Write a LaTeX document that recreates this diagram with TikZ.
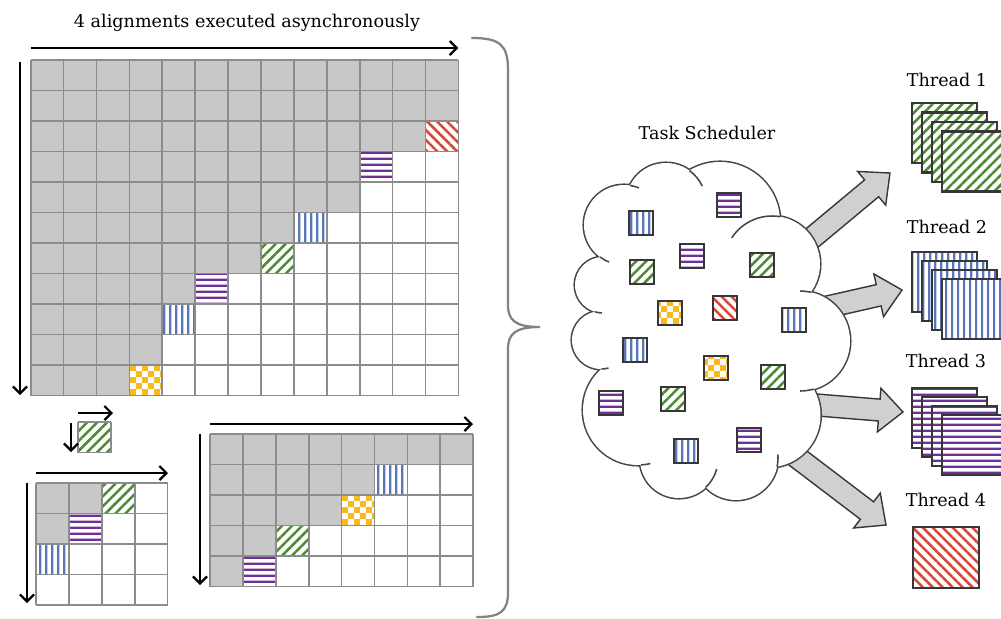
\documentclass[tikz,border=0pt]{standalone}
\usepackage{fontspec}
\setmainfont{DejaVu Serif}
\usetikzlibrary{arrows.meta, calc, patterns.meta}
\definecolor{cellfill}{RGB}{200,200,200}
\definecolor{gridgray}{RGB}{140,140,140}
\definecolor{tgreen}{RGB}{78,138,52}
\definecolor{tblue}{RGB}{88,118,185}
\definecolor{tpurple}{RGB}{108,48,152}
\definecolor{tred}{RGB}{214,72,56}
\definecolor{tyellow}{RGB}{248,186,32}
\definecolor{cloudgray}{RGB}{70,70,70}
\definecolor{tiledark}{RGB}{55,55,55}
\definecolor{bracegray}{RGB}{130,130,130}
\definecolor{arrowfill}{RGB}{208,208,208}
\pgfdeclarepatternformonly{bigcheck}{\pgfpointorigin}{\pgfqpoint{8.4pt}{8.4pt}}{\pgfqpoint{8.4pt}{8.4pt}}{%
  \pgfpathrectangle{\pgfpointorigin}{\pgfqpoint{4.2pt}{4.2pt}}%
  \pgfpathrectangle{\pgfqpoint{4.2pt}{4.2pt}}{\pgfqpoint{4.2pt}{4.2pt}}%
  \pgfusepath{fill}}
\pgfdeclarepatternformonly{vstripes}{\pgfpointorigin}{\pgfqpoint{4pt}{50pt}}{\pgfqpoint{4pt}{50pt}}{%
  \pgfpathrectangle{\pgfpointorigin}{\pgfqpoint{1.7pt}{50pt}}%
  \pgfusepath{fill}}
\pgfdeclarepatternformonly{hstripes}{\pgfpointorigin}{\pgfqpoint{50pt}{4.3pt}}{\pgfqpoint{50pt}{4.3pt}}{%
  \pgfpathrectangle{\pgfpointorigin}{\pgfqpoint{50pt}{1.9pt}}%
  \pgfusepath{fill}}
\tikzset{
  greentile/.style={preaction={fill=white}, pattern={Lines[angle=45,distance=5pt,line width=1.8pt]}, pattern color=tgreen},
  redtile/.style={preaction={fill=white}, pattern={Lines[angle=-45,distance=5pt,line width=1.8pt]}, pattern color=tred},
  bluetile/.style={preaction={fill=white}, pattern=vstripes, pattern color=tblue},
  purpletile/.style={preaction={fill=white}, pattern=hstripes, pattern color=tpurple},
  yellowtile/.style={preaction={fill=white}, pattern=bigcheck, pattern color=tyellow},
  gridline/.style={draw=gridgray, line width=1.2pt},
  axisarrow/.style={-{Straight Barb[length=5pt,width=10pt]}, line width=1.6pt, black},
  taskbox/.style={draw=tiledark, line width=1.1pt},
  threadbox/.style={draw=tiledark, line width=1.5pt},
  cloudedge/.style={draw=cloudgray, line width=1.1pt},
  blockarr/.style={fill=arrowfill, draw=tiledark, line width=1pt},
  brace/.style={draw=bracegray, line width=1.6pt, line cap=round},
  lbl/.style={font=\fontsize{12.5}{15}\selectfont, inner sep=1pt}
}
\def\cw{32.9}
\def\ch{30.5}
% grid: origin, columns, rows, grey cells per row, marked cells
\newcommand\dpgrid[5]{%
  \begin{scope}[shift={#1}]
    \foreach \g [count=\ry from 0] in {#4}
      \fill[cellfill] (0,\ry*\ch) rectangle (\g*\cw,\ry*\ch+\ch);
    \foreach \cx/\ry/\t in {#5}
      \path[\t] (\cx*\cw,\ry*\ch) rectangle ++(\cw,\ch);
    \foreach \i in {0,...,#2}
      \draw[gridline] (\i*\cw,0) -- (\i*\cw,#3*\ch);
    \foreach \j in {0,...,#3}
      \draw[gridline] (0,\j*\ch) -- (#2*\cw,\j*\ch);
  \end{scope}}
% block arrow from tail to head
\newcommand\blockarrow[2]{%
  \path ($(#2)!17pt!(#1)$) coordinate (hb);
  \draw[blockarr] ($(#1)!7.8pt!90:(#2)$) -- ($(hb)!7.8pt!90:(#2)$) -- ($(hb)!15.6pt!90:(#2)$)
    -- (#2) -- ($(hb)!15.6pt!-90:(#2)$) -- ($(hb)!7.8pt!-90:(#2)$) -- ($(#1)!7.8pt!-90:(#2)$) -- cycle;}
\begin{document}
\begin{tikzpicture}[x=0.025cm, y=-0.025cm]
  \path[use as bounding box] (0,0) rectangle (1001,619);
  \clip (0,0) rectangle (1001,619);

  % grids
  \coordinate (bigG) at (30.7,60);
  \coordinate (smallG) at (36,483);
  \coordinate (midG) at (210,434);
  \coordinate (oneG) at (78,422);
  \dpgrid{(bigG)}{13}{11}{13,13,12,10,10,8,7,5,4,4,3}{12/2/redtile,10/3/purpletile,8/5/bluetile,7/6/greentile,5/7/purpletile,4/8/bluetile,3/10/yellowtile}
  \dpgrid{(smallG)}{4}{4}{2,1,0,0}{2/0/greentile,1/1/purpletile,0/2/bluetile}
  \dpgrid{(midG)}{8}{5}{8,5,4,2,1}{5/1/bluetile,4/2/yellowtile,2/3/greentile,1/4/purpletile}
  \dpgrid{(oneG)}{1}{1}{0}{0/0/greentile}

  % axis arrows
  \draw[axisarrow] ($(bigG)+(0,-12)$) -- ++(427.7,0);
  \draw[axisarrow] ($(bigG)+(-10.7,2)$) -- ++(0,333);
  \draw[axisarrow] ($(smallG)+(0,-10)$) -- ++(132,0);
  \draw[axisarrow] ($(smallG)+(-9,0)$) -- ++(0,120);
  \draw[axisarrow] ($(midG)+(0,-10)$) -- ++(263,0);
  \draw[axisarrow] ($(midG)+(-10,0)$) -- ++(0,151);
  \draw[axisarrow] ($(oneG)+(0,-9)$) -- ++(35,0);
  \draw[axisarrow] ($(oneG)+(-7,1)$) -- ++(0,29);

  \node[lbl] (title) at (247,23) {4 alignments executed asynchronously};

  % brace
  \draw[brace] (472,38) .. controls (500,38) and (508,45) .. (508,70) -- (508,305)
    .. controls (508,320) and (515,327) .. (540,327)
    .. controls (515,327) and (508,334) .. (508,349) -- (508,592)
    .. controls (508,612) and (500,617) .. (477,617);

  % arrows to threads
  \coordinate (a1t) at (800,248); \coordinate (a1h) at (890,173);
  \coordinate (a2t) at (805,312); \coordinate (a2h) at (902,290);
  \coordinate (a3t) at (805,404); \coordinate (a3h) at (903,412);
  \coordinate (a4t) at (790,452); \coordinate (a4h) at (886,525);
  \blockarrow{a1t}{a1h}
  \blockarrow{a2t}{a2h}
  \blockarrow{a3t}{a3h}
  \blockarrow{a4t}{a4h}

  % cloud
  \foreach \cx/\cy/\rr in {624/225/40, 666/203/40, 720/222/60, 772/264/48, 800/341/50, 768/415/52.5,
      736/458/42, 679/459/39, 638/410/55, 601/340/29, 603/285/28}
    \draw[draw=cloudgray, line width=2.2pt] (\cx,\cy) circle[radius=\rr];
  \foreach \cx/\cy/\rr in {624/225/40, 666/203/40, 720/222/60, 772/264/48, 800/341/50, 768/415/52.5,
      736/458/42, 679/459/39, 638/410/55, 601/340/29, 603/285/28}
    \fill[white] (\cx,\cy) circle[radius=\rr];
  \fill[white] (624,225) -- (666,203) -- (720,222) -- (772,264) -- (800,341) -- (768,415)
    -- (736,458) -- (679,459) -- (638,410) -- (601,340) -- (603,285) -- cycle;
  \fill[white] (700,330) circle[radius=95];
  \foreach \cx/\cy/\rr/\aa/\ab in {624/225/40/-81/-68, 624/225/40/127/112, 666/203/40/-54/-25,
      772/264/48/-147/-80, 800/341/50/-90/-77, 800/341/50/74/90, 603/285/28/107/92,
      601/340/29/89/75, 638/410/55/87/77, 679/459/39/47/15, 736/458/42/12/-5}
    \draw[cloudedge] (\cx,\cy) ++(\aa:\rr) arc[start angle=\aa, end angle=\ab, radius=\rr];
  \node[lbl] (sched) at (707,133) {Task Scheduler};

  % tasks in the scheduler
  \foreach \x/\y/\t in {629/211/bluetile, 717/193/purpletile, 680/244/purpletile, 630/260/greentile,
      750/253/greentile, 658/301/yellowtile, 713/296/redtile, 782/308/bluetile, 623/338/bluetile,
      704/356/yellowtile, 761/365/greentile, 599/391/purpletile, 661/387/greentile,
      737/428/purpletile, 674/439/bluetile}
    \draw[taskbox, \t] (\x,\y) rectangle ++(24,24);

  % threads
  \node[lbl] (t1) at (947,80) {Thread 1};
  \node[lbl] (t2) at (947,227) {Thread 2};
  \node[lbl] (t3) at (946,361) {Thread 3};
  \node[lbl] (t4) at (946,500) {Thread 4};
  \foreach \k in {0,...,3}
    \draw[threadbox, greentile] (912+10*\k,103+9.5*\k) rectangle ++(65,60);
  \foreach \k in {0,...,3}
    \draw[threadbox, bluetile] (912+10*\k,252+9*\k) rectangle ++(65,60);
  \foreach \k in {0,...,3}
    \draw[threadbox, purpletile] (912+10*\k,388+9*\k) rectangle ++(65,60);
  \draw[threadbox, redtile] (913,527) rectangle ++(66,61);
\end{tikzpicture}
\end{document}
